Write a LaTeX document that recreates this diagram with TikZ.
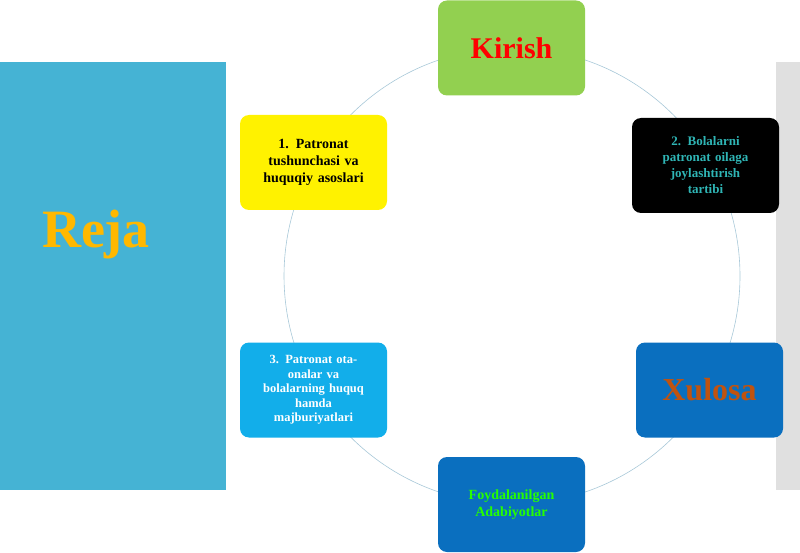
\documentclass[tikz,border=0pt]{standalone}
\usepackage{fontspec}
\setmainfont{Liberation Serif}
\definecolor{panelblue}{HTML}{45B3D4}
\definecolor{boxgreen}{HTML}{92D050}
\definecolor{boxblue}{HTML}{0A6FBF}
\definecolor{boxcyan}{HTML}{12AEEA}
\definecolor{rejaorange}{HTML}{FFB800}
\definecolor{xulosabrown}{HTML}{C0530F}
\definecolor{tealtext}{HTML}{2FB5B5}
\definecolor{ringline}{HTML}{A8C8D8}

\begin{document}
\begin{tikzpicture}[x=1pt,y=-1pt]
\tikzstyle{item}=[rounded corners=9pt,minimum width=147pt,minimum height=95pt,inner sep=2pt,align=center,font=\bfseries,text width=135pt]
\useasboundingbox (0,0) rectangle (800,553);
% background panels
\fill [panelblue] (0,62) rectangle (226,490);
\fill [black!12] (776,62) rectangle (800,490);
\node (reja) at (96,235) {\fontsize{54}{60}\selectfont\bfseries\color{rejaorange}Reja};
% ring
\draw [ringline,line width=0.6pt] (512,276) circle (228);
% items
\node [item,fill=boxgreen,text=red] (kirish) at (511.5,48) {\fontsize{30}{34}\selectfont Kirish};
\node [item,fill=yellow,text=black,font=\bfseries\fontsize{14}{17}\selectfont] (first) at (313.5,162.5) {1. Patronat\\tushunchasi va\\huquqiy asoslari};
\node [item,fill=black,text=tealtext,font=\bfseries\fontsize{13}{16}\selectfont] (second) at (705.5,165.5) {2. Bolalarni\\patronat oilaga\\joylashtirish\\tartibi};
\node [item,fill=boxblue,text=xulosabrown] (xulosa) at (709.5,390) {\fontsize{32}{36}\selectfont Xulosa};
\node [item,fill=boxblue,text=green!85!yellow,font=\bfseries\fontsize{14}{17}\selectfont] (adab) at (511.5,504.5) {Foydalanilgan\\Adabiyotlar};
\node [item,fill=boxcyan,text=white,font=\bfseries\fontsize{12.5}{14.5}\selectfont] (third) at (313.5,390) {3. Patronat ota-\\onalar va\\bolalarning huquq\\hamda\\majburiyatlari};
\end{tikzpicture}
\end{document}
